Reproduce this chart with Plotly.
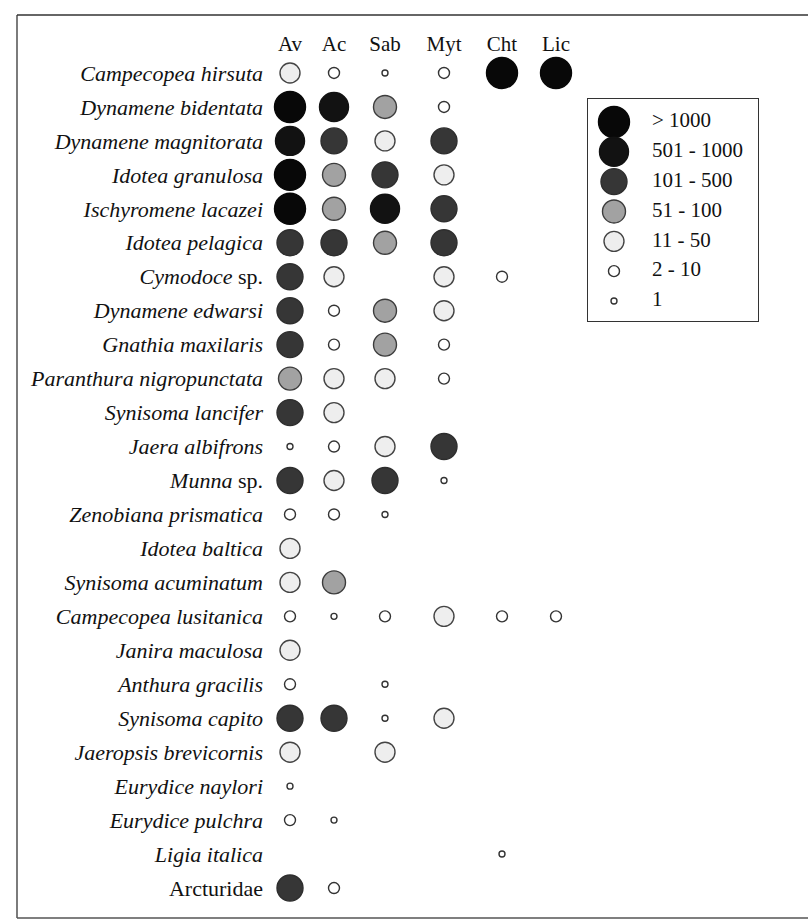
import plotly.graph_objects as go

# Species (rows, top to bottom)
species = [
    "<i>Campecopea hirsuta</i>",
    "<i>Dynamene bidentata</i>",
    "<i>Dynamene magnitorata</i>",
    "<i>Idotea granulosa</i>",
    "<i>Ischyromene lacazei</i>",
    "<i>Idotea pelagica</i>",
    "<i>Cymodoce</i> sp.",
    "<i>Dynamene edwarsi</i>",
    "<i>Gnathia maxilaris</i>",
    "<i>Paranthura nigropunctata</i>",
    "<i>Synisoma lancifer</i>",
    "<i>Jaera albifrons</i>",
    "<i>Munna</i> sp.",
    "<i>Zenobiana prismatica</i>",
    "<i>Idotea baltica</i>",
    "<i>Synisoma acuminatum</i>",
    "<i>Campecopea lusitanica</i>",
    "<i>Janira maculosa</i>",
    "<i>Anthura gracilis</i>",
    "<i>Synisoma capito</i>",
    "<i>Jaeropsis brevicornis</i>",
    "<i>Eurydice naylori</i>",
    "<i>Eurydice pulchra</i>",
    "<i>Ligia italica</i>",
    "Arcturidae",
]

# Habitats (columns)
habitats = ["Av", "Ac", "Sab", "Myt", "Cht", "Lic"]

# Abundance class per species (0 = absent, 1 = "1" ... 7 = "> 1000")
av  = [3, 7, 6, 7, 7, 5, 5, 5, 5, 4, 5, 1, 5, 2, 3, 3, 2, 3, 2, 5, 3, 1, 2, 0, 5]
ac  = [2, 6, 5, 4, 4, 5, 3, 2, 2, 3, 3, 2, 3, 2, 0, 4, 1, 0, 0, 5, 0, 0, 1, 0, 2]
sab = [1, 4, 3, 5, 6, 4, 0, 4, 4, 3, 0, 3, 5, 1, 0, 0, 2, 0, 1, 1, 3, 0, 0, 0, 0]
myt = [2, 2, 5, 3, 5, 5, 3, 3, 2, 2, 0, 5, 1, 0, 0, 0, 3, 0, 0, 3, 0, 0, 0, 0, 0]
cht = [7, 0, 0, 0, 0, 0, 2, 0, 0, 0, 0, 0, 0, 0, 0, 0, 2, 0, 0, 0, 0, 0, 0, 1, 0]
lic = [7, 0, 0, 0, 0, 0, 0, 0, 0, 0, 0, 0, 0, 0, 0, 0, 2, 0, 0, 0, 0, 0, 0, 0, 0]

# Abundance classes, largest first (legend order)
class_labels = ["> 1000", "501 - 1000", "101 - 500", "51 - 100", "11 - 50", "2 - 10", "1"]
class_codes = [7, 6, 5, 4, 3, 2, 1]

# Marker styling per class code
class_size = {7: 31, 6: 29, 5: 26, 4: 23, 3: 20, 2: 11, 1: 6}
class_fill = {7: "#080808", 6: "#121212", 5: "#363636", 4: "#a2a2a2",
              3: "#eeeeee", 2: "#ffffff", 1: "#ffffff"}
class_line = {7: "#080808", 6: "#121212", 5: "#2e2e2e", 4: "#3c3c3c",
              3: "#444444", 2: "#333333", 1: "#333333"}

columns = [av, ac, sab, myt, cht, lic]
# horizontal placement of the habitat columns on the x axis
col_pos = [18, 62, 113, 172, 230, 284]

SERIF = "Liberation Serif, Times New Roman, serif"

xs, ys, sizes, fills, lines = [], [], [], [], []
for j, col in enumerate(columns):
    for i, c in enumerate(col):
        if c:
            xs.append(col_pos[j])
            ys.append(i)
            sizes.append(class_size[c])
            fills.append(class_fill[c])
            lines.append(class_line[c])

fig = go.Figure()
fig.add_trace(go.Scatter(
    x=xs, y=ys, mode="markers", showlegend=False, hoverinfo="skip",
    marker=dict(size=sizes, color=fills, opacity=1,
                line=dict(color=lines, width=1.4)),
))

# Key: one circle per abundance class, with its label
key_rows = list(range(len(class_codes)))
fig.add_trace(go.Scatter(
    x=[0] * len(class_codes), y=key_rows, mode="markers",
    xaxis="x2", yaxis="y2", showlegend=False, hoverinfo="skip",
    marker=dict(size=[class_size[c] for c in class_codes],
                color=[class_fill[c] for c in class_codes], opacity=1,
                line=dict(color=[class_line[c] for c in class_codes], width=1.4)),
))
fig.add_trace(go.Scatter(
    x=[1.0] * len(class_codes), y=key_rows, mode="text",
    text=class_labels, textposition="middle right",
    textfont=dict(family=SERIF, size=21, color="#111111"),
    xaxis="x2", yaxis="y2", showlegend=False, hoverinfo="skip",
))

L, T, B = 272, 56, 19
W, H = 808, 924
plot_w = W - L
plot_h = H - T - B

def px_x(p):
    return (p - L) / plot_w

def px_y(p):
    return (H - B - p) / plot_h

fig.update_layout(
    width=W, height=H,
    margin=dict(l=L, r=0, t=T, b=B, pad=0),
    paper_bgcolor="white", plot_bgcolor="rgba(0,0,0,0)",
    font=dict(family=SERIF, color="#111111"),
    xaxis=dict(range=[0, plot_w], side="top", tickvals=col_pos, ticktext=habitats,
               showgrid=False, zeroline=False, showline=False, ticks="",
               tickfont=dict(family=SERIF, size=21, color="#111111"), fixedrange=True),
    yaxis=dict(range=[len(species) - 0.5, -0.5], tickvals=list(range(len(species))),
               ticktext=species, showgrid=False, zeroline=False, showline=False,
               ticks="", ticklabelstandoff=8,
               tickfont=dict(family=SERIF, size=22, color="#111111"),
               fixedrange=True),
    xaxis2=dict(domain=[px_x(588), px_x(758)], range=[-0.684, 3.79], anchor="y2",
                showgrid=False, zeroline=False, showticklabels=False, ticks="",
                showline=True, mirror=True, linecolor="#333333", linewidth=1.2),
    yaxis2=dict(domain=[px_y(321), px_y(99)], range=[6.67, -0.77], anchor="x2",
                showgrid=False, zeroline=False, showticklabels=False, ticks="",
                showline=True, mirror=True, linecolor="#333333", linewidth=1.2),
    shapes=[
        # outer frame
        dict(type="line", xref="paper", yref="paper", x0=px_x(17), x1=px_x(17),
             y0=px_y(15), y1=px_y(918), line=dict(color="#444444", width=1.4)),
        dict(type="line", xref="paper", yref="paper", x0=px_x(17), x1=1.02,
             y0=px_y(15), y1=px_y(15), line=dict(color="#333333", width=1.6)),
        dict(type="line", xref="paper", yref="paper", x0=px_x(17), x1=1.02,
             y0=px_y(918), y1=px_y(918), line=dict(color="#555555", width=1.6)),
    ],
)

fig.write_html("out.html")
